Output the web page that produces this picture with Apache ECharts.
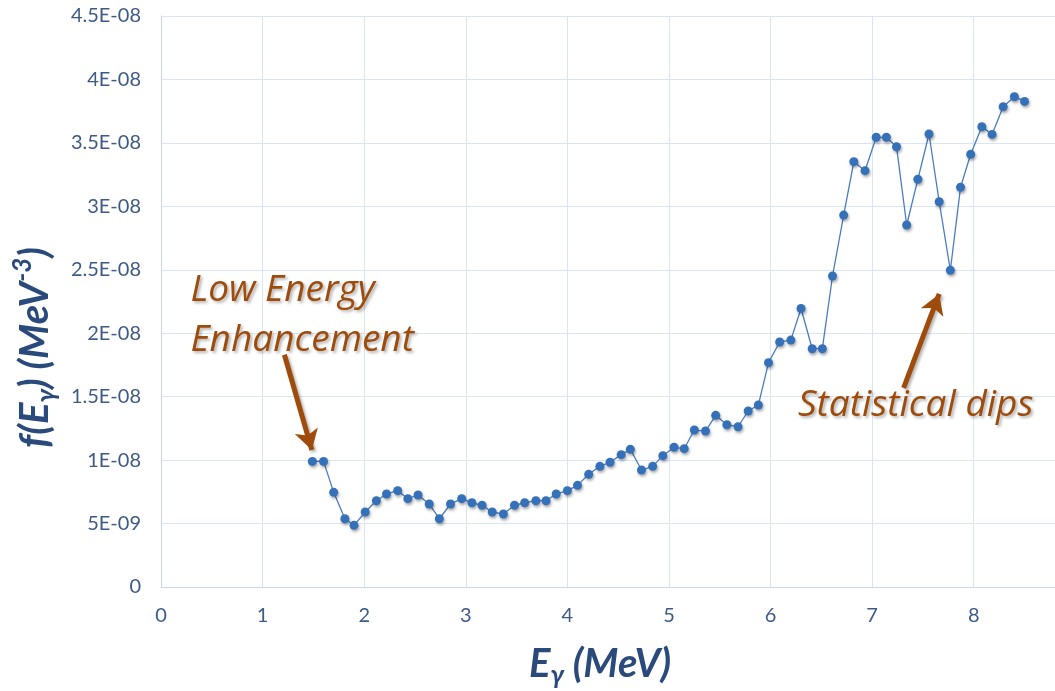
<!DOCTYPE html>
<html>
<head>
<meta charset="utf-8">
<script src="https://cdn.jsdelivr.net/npm/echarts@6/dist/echarts.min.js"></script>
<style>
  html, body { margin: 0; padding: 0; background: #ffffff; }
  #chart { width: 1055px; height: 691px; }
</style>
</head>
<body>
<div id="chart"></div>
<script>
// Gamma energy (MeV)
const energies = [1.49, 1.60, 1.70, 1.81, 1.90, 2.01, 2.12, 2.22, 2.33, 2.43, 2.53, 2.64, 2.74, 2.85, 2.96, 3.06, 3.16, 3.26, 3.37, 3.48, 3.58, 3.69, 3.79, 3.89, 4.00,
  4.10, 4.21, 4.32, 4.42, 4.53, 4.62, 4.73, 4.84, 4.94, 5.05, 5.15, 5.25, 5.36, 5.46, 5.57, 5.68, 5.78, 5.88, 5.98, 6.09, 6.20,
  6.30, 6.41, 6.51, 6.61, 6.72, 6.82, 6.93, 7.04, 7.14, 7.24, 7.34, 7.45, 7.56, 7.66, 7.77, 7.87, 7.97, 8.08, 8.18, 8.29, 8.40, 8.50];
// gamma strength function f(E) (MeV^-3)
const strength = [9.9e-9, 9.9e-9, 7.46e-9, 5.38e-9, 4.86e-9, 5.91e-9, 6.80e-9, 7.33e-9, 7.59e-9, 6.96e-9, 7.25e-9, 6.54e-9, 5.38e-9, 6.54e-9, 6.96e-9, 6.64e-9, 6.44e-9, 5.91e-9, 5.75e-9, 6.44e-9, 6.64e-9, 6.80e-9, 6.80e-9, 7.33e-9, 7.59e-9,
  8.01e-9, 8.88e-9, 9.51e-9, 9.83e-9, 10.43e-9, 10.85e-9, 9.22e-9, 9.51e-9, 10.35e-9, 11.01e-9, 10.90e-9, 12.37e-9, 12.29e-9, 13.53e-9, 12.79e-9, 12.63e-9, 13.87e-9, 14.34e-9, 17.68e-9, 19.31e-9, 19.46e-9,
  21.95e-9, 18.78e-9, 18.78e-9, 24.51e-9, 29.31e-9, 33.52e-9, 32.81e-9, 35.44e-9, 35.44e-9, 34.70e-9, 28.53e-9, 32.13e-9, 35.70e-9, 30.36e-9, 24.96e-9, 31.50e-9, 34.10e-9, 36.27e-9, 35.67e-9, 37.85e-9, 38.64e-9, 38.27e-9];

const xTicks = [0, 1, 2, 3, 4, 5, 6, 7, 8];
const yTicks = ['0', '5E-09', '1E-08', '1.5E-08', '2E-08', '2.5E-08', '3E-08', '3.5E-08', '4E-08', '4.5E-08'];

// annotations (data coordinates)
const annotationTexts = ['Low Energy\nEnhancement', 'Statistical dips'];
const annotationAnchors = [[0.29, 21.4e-9], [6.27, 14.3e-9]];
const arrowStarts = [[1.215, 18.3e-9], [7.31, 15.7e-9]];
const arrowEnds = [[1.485, 10.8e-9], [7.66, 23.1e-9]];

const points = energies.map((e, i) => [e, strength[i]]);

const chart = echarts.init(document.getElementById('chart'), null, { renderer: 'canvas' });

const brown = '#9E4B0B';
const axisBlue = '#3E5A86';
const titleBlue = '#2A4A7C';
const gridColor = '#D9E4F4';

function fmtY(v) {
  const idx = Math.round(v / 5e-9);
  return yTicks[idx] !== undefined ? yTicks[idx] : '';
}

const titleFont = { fontFamily: 'Lato', fontStyle: 'italic', fontWeight: 'bold', color: titleBlue };

chart.setOption({
  animation: false,
  backgroundColor: '#ffffff',
  grid: { left: 161, right: 0, top: 16, bottom: 104, containLabel: false, outerBoundsMode: 'none' },
  xAxis: {
    type: 'value',
    min: 0,
    max: 8.8,
    interval: 1,
    name: '{e|E}{g|γ}{a| (MeV)}',
    nameLocation: 'middle',
    nameGap: 52,
    nameTextStyle: {
      padding: [0, 16, 0, 0],
      rich: {
        e: Object.assign({ fontSize: 40, lineHeight: 50 }, titleFont),
        g: Object.assign({ fontSize: 26, verticalAlign: 'bottom' }, titleFont),
        a: Object.assign({ fontSize: 40, lineHeight: 50 }, titleFont)
      }
    },
    axisLine: { show: true, lineStyle: { color: '#C5D6EE', width: 1 } },
    axisTick: { show: false },
    axisLabel: {
      showMaxLabel: false,
      margin: 19,
      fontFamily: 'Lato',
      fontSize: 20,
      color: axisBlue,
      formatter: v => (xTicks.indexOf(v) >= 0 ? String(v) : '')
    },
    splitLine: { show: true, lineStyle: { color: gridColor, width: 1 } }
  },
  yAxis: {
    type: 'value',
    min: 0,
    max: 4.5e-8,
    interval: 5e-9,
    name: '{a|f(E}{g|γ}{a|) (MeV}{p|-3}{a|)}',
    nameLocation: 'middle',
    nameGap: 96,
    nameTextStyle: {
      padding: [0, 92, 0, 0],
      rich: {
        a: Object.assign({ fontSize: 40, lineHeight: 50 }, titleFont),
        g: Object.assign({ fontSize: 26, verticalAlign: 'bottom' }, titleFont),
        p: Object.assign({ fontSize: 26, verticalAlign: 'top' }, titleFont)
      }
    },
    axisLine: { show: true, lineStyle: { color: '#C5D6EE', width: 1 } },
    axisTick: { show: false },
    axisLabel: {
      margin: 20,
      fontFamily: 'Lato',
      fontSize: 20,
      color: axisBlue,
      formatter: fmtY
    },
    splitLine: { show: true, lineStyle: { color: gridColor, width: 1 } }
  },
  series: [
    {
      type: 'line',
      data: points,
      symbol: 'circle',
      symbolSize: 9,
      showAllSymbol: true,
      lineStyle: { color: '#4A7CC3', width: 1.3 },
      itemStyle: {
        color: '#3571B9',
        shadowColor: 'rgba(0,0,0,0.35)',
        shadowBlur: 3,
        shadowOffsetX: 1,
        shadowOffsetY: 2
      },
      z: 3,
      silent: true
    },
    {
      type: 'line',
      data: [],
      silent: true,
      z: 5,
      markLine: {
        silent: true,
        symbol: ['none', 'arrow'],
        symbolSize: [18, 20],
        label: { show: false },
        lineStyle: {
          color: brown, width: 5, type: 'solid',
          shadowColor: 'rgba(0,0,0,0.3)', shadowBlur: 3, shadowOffsetX: 2, shadowOffsetY: 2
        },
        emphasis: { disabled: true },
        data: arrowStarts.map((s, i) => [{ coord: s }, { coord: arrowEnds[i] }])
      },
      markPoint: {
        silent: true,
        symbol: 'circle',
        symbolSize: 0,
        data: annotationAnchors.map((c, i) => ({
          coord: c,
          value: annotationTexts[i],
          label: {
            show: true,
            position: 'inside',
            align: 'left',
            verticalAlign: 'middle',
            formatter: annotationTexts[i],
            fontFamily: 'Open Sans',
            fontStyle: 'italic',
            fontSize: 37,
            lineHeight: 50,
            color: brown,
            textShadowColor: 'rgba(0,0,0,0.3)',
            textShadowBlur: 3,
            textShadowOffsetX: 2,
            textShadowOffsetY: 2
          }
        }))
      }
    }
  ]
});
</script>
</body>
</html>
